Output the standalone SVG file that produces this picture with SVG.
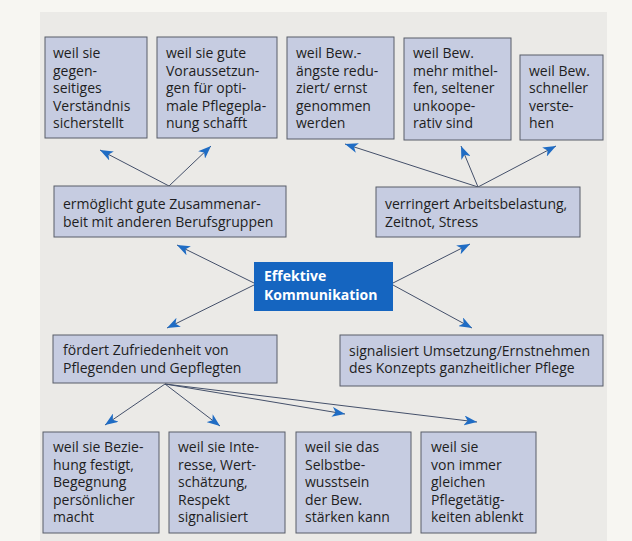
<svg xmlns="http://www.w3.org/2000/svg" width="632" height="541" viewBox="0 0 632 541">
<defs>
<marker id="ah" markerUnits="userSpaceOnUse" markerWidth="14" markerHeight="10" refX="13" refY="5" orient="auto">
<path d="M0,0 L13,5 L0,10 L3.5,5 Z" fill="#1f6cc4"/>
</marker>
<style>
.bx{fill:#c6cce1;stroke:#585d68;stroke-width:1}
.t{font-family:"Open Sans","Liberation Sans",sans-serif;font-size:14px;fill:#1e1e22}
.h{font-family:"Open Sans","Liberation Sans",sans-serif;font-size:14px;font-weight:bold;fill:#ffffff}
.c{fill:none;stroke:#44506a;stroke-width:1;marker-end:url(#ah)}
</style>
</defs>
<rect x="0" y="0" width="632" height="541" fill="#f7f6f2"/>
<rect x="40" y="12" width="567" height="529" fill="#ebeae7"/>

<g id="connectors">
<line class="c" x1="169" y1="186" x2="100" y2="150"/>
<line class="c" x1="169" y1="186" x2="211" y2="146"/>
<line class="c" x1="478" y1="187" x2="345" y2="144"/>
<line class="c" x1="478" y1="187" x2="461" y2="146"/>
<line class="c" x1="478" y1="187" x2="556" y2="146"/>
<line class="c" x1="254" y1="283" x2="177" y2="245"/>
<line class="c" x1="393" y1="283" x2="470" y2="244"/>
<line class="c" x1="254" y1="285" x2="167" y2="328"/>
<line class="c" x1="393" y1="285" x2="472" y2="328"/>
<line class="c" x1="165" y1="384" x2="105" y2="425"/>
<line class="c" x1="165" y1="384" x2="220" y2="426"/>
<line class="c" x1="165" y1="384" x2="345" y2="414"/>
<line class="c" x1="165" y1="384" x2="477" y2="422"/>
</g>

<g id="n1">
<rect class="bx" x="45" y="37" width="102" height="101"/>
<text class="t"><tspan x="53" y="58">weil sie</tspan><tspan x="53" y="75.5">gegen-</tspan><tspan x="53" y="93">seitiges</tspan><tspan x="53" y="110.5">Verständnis</tspan><tspan x="53" y="128">sicherstellt</tspan></text>
</g>
<g id="n2">
<rect class="bx" x="157" y="37" width="120" height="101"/>
<text class="t"><tspan x="166" y="58">weil sie gute</tspan><tspan x="166" y="75.5">Voraussetzun-</tspan><tspan x="166" y="93">gen für opti-</tspan><tspan x="166" y="110.5">male Pflegepla-</tspan><tspan x="166" y="128">nung schafft</tspan></text>
</g>
<g id="n3">
<rect class="bx" x="287" y="37" width="107" height="102"/>
<text class="t"><tspan x="296" y="58">weil Bew.-</tspan><tspan x="296" y="75.5">ängste redu-</tspan><tspan x="296" y="93">ziert/ ernst</tspan><tspan x="296" y="110.5">genommen</tspan><tspan x="296" y="128">werden</tspan></text>
</g>
<g id="n4">
<rect class="bx" x="404" y="38" width="107" height="102"/>
<text class="t"><tspan x="413" y="58">weil Bew.</tspan><tspan x="413" y="75.5">mehr mithel-</tspan><tspan x="413" y="93">fen, seltener</tspan><tspan x="413" y="110.5">unkoope-</tspan><tspan x="413" y="128">rativ sind</tspan></text>
</g>
<g id="n5">
<rect class="bx" x="520" y="55" width="83" height="85"/>
<text class="t"><tspan x="529" y="75.5">weil Bew.</tspan><tspan x="529" y="93">schneller</tspan><tspan x="529" y="110.5">verste-</tspan><tspan x="529" y="128">hen</tspan></text>
</g>

<g id="n6">
<rect class="bx" x="54" y="186" width="232" height="51"/>
<text class="t"><tspan x="63" y="209">ermöglicht gute Zusammenar-</tspan><tspan x="63" y="226.5">beit mit anderen Berufsgruppen</tspan></text>
</g>
<g id="n7">
<rect class="bx" x="376" y="187" width="204" height="50"/>
<text class="t"><tspan x="385" y="209">verringert Arbeitsbelastung,</tspan><tspan x="385" y="226.5">Zeitnot, Stress</tspan></text>
</g>

<g id="center">
<rect x="254" y="262" width="139" height="49" fill="#1565c0"/>
<text class="h"><tspan x="264" y="281">Effektive</tspan><tspan x="264" y="300">Kommunikation</tspan></text>
</g>

<g id="n8">
<rect class="bx" x="53" y="335" width="224" height="48"/>
<text class="t"><tspan x="63" y="355">fördert Zufriedenheit von</tspan><tspan x="63" y="372.5">Pflegenden und Gepflegten</tspan></text>
</g>
<g id="n9">
<rect class="bx" x="340" y="335" width="263" height="51"/>
<text class="t"><tspan x="349" y="355.5">signalisiert Umsetzung/Ernstnehmen</tspan><tspan x="349" y="373">des Konzepts ganzheitlicher Pflege</tspan></text>
</g>

<g id="n10">
<rect class="bx" x="43" y="432" width="116" height="101"/>
<text class="t"><tspan x="53" y="452">weil sie Bezie-</tspan><tspan x="53" y="469.5">hung festigt,</tspan><tspan x="53" y="487">Begegnung</tspan><tspan x="53" y="504.5">persönlicher</tspan><tspan x="53" y="522">macht</tspan></text>
</g>
<g id="n11">
<rect class="bx" x="169" y="432" width="116" height="101"/>
<text class="t"><tspan x="178" y="452">weil sie Inte-</tspan><tspan x="178" y="469.5">resse, Wert-</tspan><tspan x="178" y="487">schätzung,</tspan><tspan x="178" y="504.5">Respekt</tspan><tspan x="178" y="522">signalisiert</tspan></text>
</g>
<g id="n12">
<rect class="bx" x="296" y="432" width="115" height="101"/>
<text class="t"><tspan x="305" y="452">weil sie das</tspan><tspan x="305" y="469.5">Selbstbe-</tspan><tspan x="305" y="487">wusstsein</tspan><tspan x="305" y="504.5">der Bew.</tspan><tspan x="305" y="522">stärken kann</tspan></text>
</g>
<g id="n13">
<rect class="bx" x="421" y="432" width="115" height="101"/>
<text class="t"><tspan x="431" y="452">weil sie</tspan><tspan x="431" y="469.5">von immer</tspan><tspan x="431" y="487">gleichen</tspan><tspan x="431" y="504.5">Pflegetätig-</tspan><tspan x="431" y="522">keiten ablenkt</tspan></text>
</g>
</svg>
